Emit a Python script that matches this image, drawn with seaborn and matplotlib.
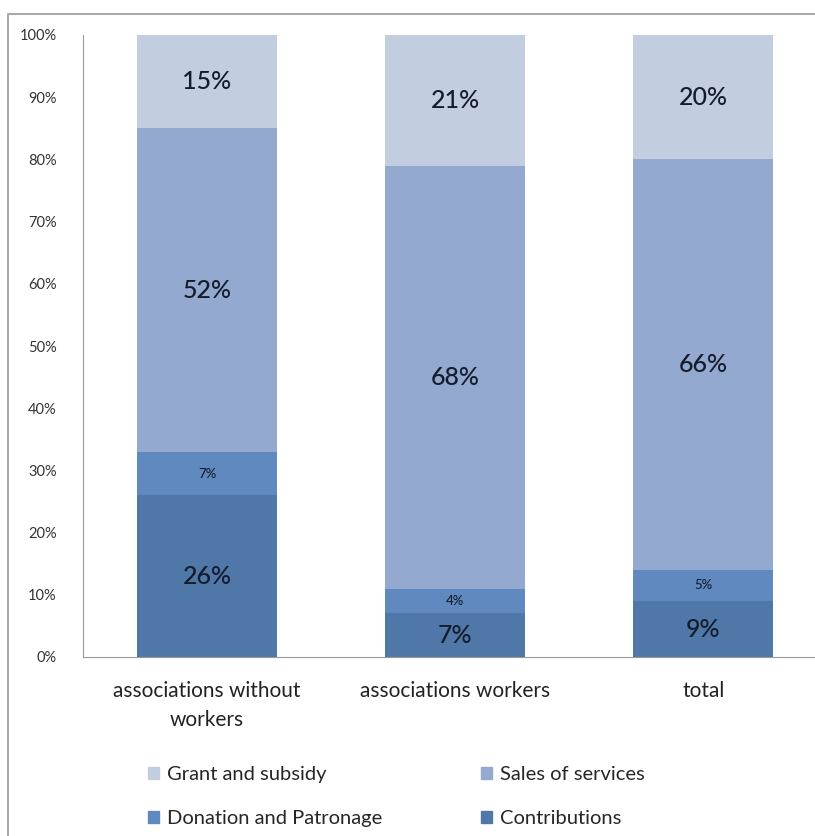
import pandas as pd
import seaborn as sns
import matplotlib.pyplot as plt
from matplotlib.patches import Rectangle, Patch

categories = ["associations without\nworkers", "associations workers", "total"]
contributions = [26, 7, 9]
donation = [7, 4, 5]
sales = [52, 68, 66]
grant = [15, 21, 20]

series = [("Contributions", contributions, "#4f77a8", 18),
          ("Donation and Patronage", donation, "#6089bf", 9.5),
          ("Sales of services", sales, "#93a9d0", 18),
          ("Grant and subsidy", grant, "#c3cde0", 18)]

sns.set_style("white")
plt.rcParams['font.family'] = ['Lato', 'DejaVu Sans']

fig = plt.figure(figsize=(8.15, 8.36), dpi=100)
ax = fig.add_axes([83/815, 179/836, 732/815, 622/836])

bottom = [0, 0, 0]
for name, vals, color, fs in series:
    df = pd.DataFrame({"cat": categories, "val": vals, "bottom": bottom})
    sns.barplot(data=df, x="cat", y="val", bottom=df["bottom"], color=color,
                width=0.565, ax=ax, saturation=1, linewidth=0)
    for i, v in enumerate(vals):
        ax.text(i, bottom[i] + v / 2, f"{v}%", ha="center", va="center",
                fontsize=fs, color="#141c2c", fontweight="medium")
    bottom = [b + v for b, v in zip(bottom, vals)]

ax.set_xlim(-0.5, 2.45)
ax.set_ylim(0, 100)
ax.set_yticks(range(0, 101, 10))
ax.set_yticklabels([f"{t}%" for t in range(0, 101, 10)], fontsize=10.5, color="#333333")
ax.set_xticks(range(3))
ax.set_xticklabels(categories, fontsize=15, color="#222222", linespacing=1.6)
ax.tick_params(axis="x", length=0, pad=17)
ax.tick_params(axis="y", length=0, pad=19)
ax.set_xlabel("")
ax.set_ylabel("")
for s in ["top", "right"]:
    ax.spines[s].set_visible(False)
ax.spines["left"].set_color("#999999")
ax.spines["bottom"].set_color("#999999")

handles = [Patch(color=c) for _, _, c, _ in series]
names = [n for n, _, _, _ in series]
order = [3, 1, 2, 0]
fig.legend([handles[i] for i in order], [names[i] for i in order],
           loc="upper left", bbox_to_anchor=(130/815, 1 - 748/836), ncol=2,
           frameon=False, fontsize=14.5, handlelength=0.55, handleheight=0.55,
           handletextpad=0.4, columnspacing=4.9, labelspacing=1.35)

fig.patches.append(Rectangle((8/815, -0.1), 1.2, 1.1 - 14/836, transform=fig.transFigure,
                             fill=False, edgecolor="#999999", linewidth=1.2))

fig.savefig("out.png", dpi=100)
